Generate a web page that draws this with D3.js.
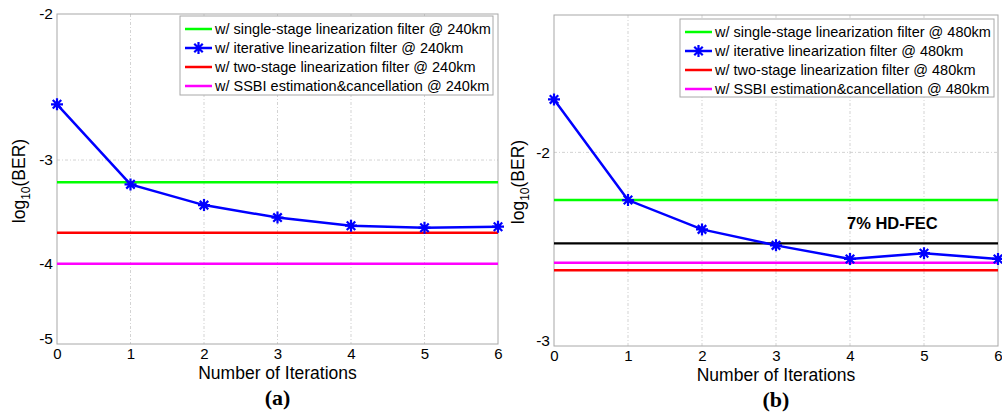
<!DOCTYPE html>
<html><head><meta charset="utf-8">
<script src="https://cdn.jsdelivr.net/npm/d3@7"></script>
<style>
body{margin:0;background:#fff;}
svg{display:block;font-family:"Liberation Sans",Arial,sans-serif;}
</style></head>
<body><svg id="c" width="1002" height="414"></svg>
<script>
// Data (log10(BER) values)
const iterations = [0,1,2,3,4,5,6];
const iterA = [-2.57,-3.21,-3.40,-3.52,-3.60,-3.62,-3.61];
const singleA = -3.19;
const twoStageA = -3.67;
const ssbiA = -4.0;
const iterB = [-1.79,-2.21,-2.35,-2.43,-2.50,-2.47,-2.50];
const singleB = -2.21;
const twoStageB = -2.56;
const ssbiB = -2.52;
const fecB = -2.42;
const yTicksA = [-2,-3,-4,-5];
const yTicksB = [-2,-3];
const legendA = ["w/ single-stage linearization filter @ 240km","w/ iterative linearization filter @ 240km","w/ two-stage linearization filter @ 240km","w/ SSBI estimation&cancellation @ 240km"];
const legendB = ["w/ single-stage linearization filter @ 480km","w/ iterative linearization filter @ 480km","w/ two-stage linearization filter @ 480km","w/ SSBI estimation&cancellation @ 480km"];

const svg = d3.select("#c");
const colors = ["#00ff00","#0000ff","#ff0000","#ff00ff"];

function asterisk(g, x, y, s){
  const p = d3.path();
  for(let i=0;i<4;i++){
    const a = i*Math.PI/4;
    p.moveTo(x - s*Math.cos(a), y - s*Math.sin(a));
    p.lineTo(x + s*Math.cos(a), y + s*Math.sin(a));
  }
  g.append("path").attr("d", p.toString()).attr("stroke","#0000ff").attr("stroke-width",2.2).attr("fill","none");
}

function panel(o){
  const g = svg.append("g");
  const x = d3.scaleLinear().domain([0,6]).range([o.left,o.right]);
  const ylog = d3.scaleLog().domain(o.ydom).range([o.top,o.bottom]);
  const y = v => ylog(-v);
  // grid
  iterations.slice(1,-1).forEach(t=>{
    g.append("line").attr("x1",x(t)).attr("x2",x(t)).attr("y1",o.top).attr("y2",o.bottom)
      .attr("stroke","#c8c8c8").attr("stroke-width",0.8).attr("stroke-dasharray","3,2,1,2");
  });
  o.yTicks.forEach(t=>{
    const yy = y(t);
    if (Math.abs(yy-o.top)>1 && Math.abs(yy-o.bottom)>1)
      g.append("line").attr("x1",o.left).attr("x2",o.right).attr("y1",yy).attr("y2",yy)
        .attr("stroke","#c8c8c8").attr("stroke-width",0.8).attr("stroke-dasharray","3,2,1,2");
  });
  // box
  g.append("rect").attr("x",o.left).attr("y",o.top).attr("width",o.right-o.left).attr("height",o.bottom-o.top)
    .attr("fill","none").attr("stroke","#a8a8a8").attr("stroke-width",1);
  // axes tick labels
  const xa = d3.axisBottom(x).tickValues(iterations).tickSize(0).tickFormat(d3.format("d"));
  const xg = g.append("g").attr("transform",`translate(0,${o.bottom})`).call(xa);
  xg.select(".domain").remove();
  xg.selectAll("text").attr("dy","0.71em").attr("y",4).attr("font-size",15).attr("fill","#000").attr("font-family","Liberation Sans, Arial, sans-serif");
  const ya = d3.axisLeft(ylog).tickValues(o.yTicks.map(v=>-v)).tickSize(0).tickFormat(v=>"-"+v);
  const yg = g.append("g").attr("transform",`translate(${o.left},0)`).call(ya);
  yg.select(".domain").remove();
  yg.selectAll("text").attr("x",-4).attr("font-size",15.5).attr("fill","#000").attr("font-family","Liberation Sans, Arial, sans-serif");
  yg.selectAll(".tick").filter(d=>Math.abs(ylog(d)-o.bottom)<1).select("text").attr("dy","0").attr("y",-1);
  // horizontal reference lines
  const hl = (v,c,w)=>g.append("line").attr("x1",o.left).attr("x2",o.right).attr("y1",y(v)).attr("y2",y(v)).attr("stroke",c).attr("stroke-width",w);
  hl(o.single,colors[0],2.5);
  hl(o.two,colors[2],2.5);
  hl(o.ssbi,colors[3],2.5);
  if(o.fec!==undefined){
    hl(o.fec,"#000",2.2);
    g.append("text").attr("x",x(4)-3).attr("y",y(o.fec)-14).attr("font-size",16.5).attr("font-weight","bold").text("7% HD-FEC");
  }
  // iterative
  const line = d3.line().x((d,i)=>x(iterations[i])).y(d=>y(d));
  g.append("path").datum(o.iter).attr("d",line).attr("fill","none").attr("stroke","#0000ff").attr("stroke-width",2.5);
  o.iter.forEach((v,i)=>asterisk(g,x(iterations[i]),y(v),6));
  // legend
  const L = o.legend;
  g.append("rect").attr("x",L.x).attr("y",L.y).attr("width",L.w).attr("height",L.h).attr("fill","#fff").attr("stroke","#a8a8a8").attr("stroke-width",1);
  o.labels.forEach((t,i)=>{
    const ly = L.y + 13 + i*19;
    g.append("line").attr("x1",L.x+5).attr("x2",L.x+32).attr("y1",ly).attr("y2",ly).attr("stroke",colors[i]).attr("stroke-width",2.5);
    if(i===1) asterisk(g,L.x+18.5,ly,6);
    g.append("text").attr("x",L.x+35).attr("y",ly).attr("dy","0.35em").attr("font-size",14.5).attr("fill","#000").text(t);
  });
  // axis titles
  g.append("text").attr("x",(o.left+o.right)/2).attr("y",o.bottom+35).attr("text-anchor","middle").attr("font-size",17.5).text("Number of Iterations");
  const yl = g.append("text").attr("transform",`translate(${o.ylx},${o.yly}) rotate(-90)`).attr("text-anchor","middle").attr("font-size",17.5);
  yl.append("tspan").text("log");
  yl.append("tspan").attr("font-size",12).attr("dy",5).text("10");
  yl.append("tspan").attr("dy",-5).text("(BER)");
  g.append("text").attr("x",(o.left+o.right)/2).attr("y",o.bottom+61).attr("text-anchor","middle").attr("font-size",22).attr("font-weight","bold").attr("font-family","Liberation Serif, Times New Roman, serif").text(o.tag);
}

panel({left:57,right:498,top:14,bottom:344,ydom:[2,5],yTicks:yTicksA,iter:iterA,single:singleA,two:twoStageA,ssbi:ssbiA,
  legend:{x:180,y:16,w:313,h:79},labels:legendA,ylx:25,yly:181,tag:"(a)"});
panel({left:554,right:998,top:15,bottom:346,ydom:[1.5,3],yTicks:yTicksB,iter:iterB,single:singleB,two:twoStageB,ssbi:ssbiB,fec:fecB,
  legend:{x:680,y:19,w:314,h:78},labels:legendB,ylx:524,yly:182,tag:"(b)"});
</script></body></html>
